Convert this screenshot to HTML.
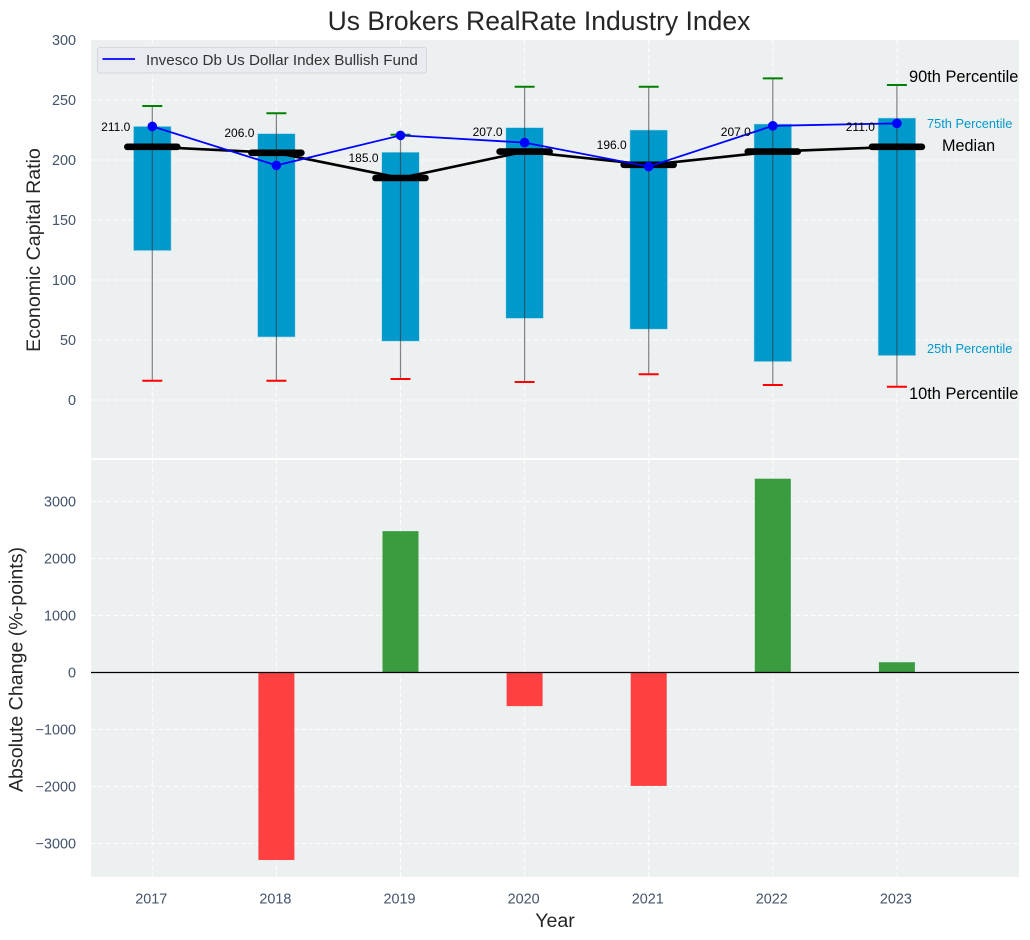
<!DOCTYPE html>
<html>
<head>
<meta charset="utf-8">
<style>
html,body{margin:0;padding:0;background:#fff;}
body{width:1030px;height:940px;overflow:hidden;}
svg{display:block;}
text{font-family:"Liberation Sans",Arial,sans-serif;}
</style>
</head>
<body>
<svg id="chart" width="1030" height="940" viewBox="0 0 1030 940" xmlns="http://www.w3.org/2000/svg"></svg>
<script>
const years = [2017, 2018, 2019, 2020, 2021, 2022, 2023];
const p90 = [245, 239, 221, 261, 261, 268, 262.5];
const p75 = [228, 222, 206.5, 227, 225, 230, 235];
const medians = [211, 206, 185, 207, 196, 207, 211];
const p25 = [124.5, 52.5, 49, 68, 59, 32, 37];
const p10 = [16, 16, 17.5, 15, 21.5, 12.5, 11];
const fund = [228, 195.5, 220.5, 214.5, 194.5, 228.5, 230.5];
const changes = [null, -3290, 2480, -590, -1990, 3400, 180];
const topTicks = [0, 50, 100, 150, 200, 250, 300];
const bottomTicks = [-3000, -2000, -1000, 0, 1000, 2000, 3000];

const svg = document.getElementById('chart');
const NS = 'http://www.w3.org/2000/svg';
const plotL = 91, plotR = 1019;
const topT = 40, topB = 458, botT = 460, botB = 877;
const x = v => 152.3 + (v - 2017) * 124.1;
const yTop = v => 400 - v * 1.2;
const yBot = v => 672.5 - v * 0.057;

function mk(tag, attrs, parent) {
  const el = document.createElementNS(NS, tag);
  for (const k in attrs) el.setAttribute(k, attrs[k]);
  (parent || svg).appendChild(el);
  return el;
}
function txt(str, attrs) {
  const el = mk('text', attrs);
  el.textContent = str;
  return el;
}
const TICK = '#44546a';
const GRID = {stroke: '#ffffff', 'stroke-width': 1, 'stroke-dasharray': '4.5 3', 'stroke-opacity': 0.9};

// plot backgrounds
const bgTop = mk('rect', {x: plotL, y: topT, width: plotR - plotL, height: topB - topT, fill: '#ecf0f1'});


const bgBot = mk('rect', {x: plotL, y: botT, width: plotR - plotL, height: botB - botT, fill: '#ecf0f1'});



// vertical grid + x ticks
years.forEach(yr => {
  const g1 = mk('line', Object.assign({x1: x(yr), x2: x(yr), y1: topT, y2: topB}, GRID));
  
  
  const g2 = mk('line', Object.assign({x1: x(yr), x2: x(yr), y1: botT, y2: botB}, GRID));
  
  
  const t = txt(String(yr), {x: x(yr) - 1, y: 903.5, 'text-anchor': 'middle', 'font-size': 14.4, fill: TICK});
  
  
});

// top y grid + ticks
topTicks.forEach(v => {
  if (v !== 300) {
    const g = mk('line', Object.assign({x1: plotL, x2: plotR, y1: yTop(v), y2: yTop(v)}, GRID));
    
    
  }
  const t = txt(String(v), {x: 76, y: yTop(v) + 5, 'text-anchor': 'end', 'font-size': 14.4, fill: TICK});
  
  
});

// bottom y grid + ticks
bottomTicks.forEach(v => {
  const g = mk('line', Object.assign({x1: plotL, x2: plotR, y1: yBot(v), y2: yBot(v)}, GRID));
  
  
  const t = txt(String(v).replace('-', '\u2212'), {x: 76, y: yBot(v) + 5, 'text-anchor': 'end', 'font-size': 14.4, fill: TICK});
  
  
});

// interquartile bars
years.forEach((yr, i) => {
  const r = mk('rect', {x: x(yr) - 18.8, y: yTop(p75[i]), width: 37.6, height: yTop(p25[i]) - yTop(p75[i]), fill: '#0099cc', stroke: '#b5dbe8', 'stroke-width': 0.6});
  
  
});

// whiskers and caps
years.forEach((yr, i) => {
  const w = mk('line', {x1: x(yr), x2: x(yr), y1: yTop(p90[i]), y2: yTop(p10[i]), stroke: '#333333', 'stroke-opacity': 0.6, 'stroke-width': 1.2});
  
  
  const c1 = mk('line', {x1: x(yr) - 10, x2: x(yr) + 10, y1: yTop(p90[i]), y2: yTop(p90[i]), stroke: '#008000', 'stroke-width': 2});
  
  
  const c2 = mk('line', {x1: x(yr) - 10, x2: x(yr) + 10, y1: yTop(p10[i]), y2: yTop(p10[i]), stroke: '#ff0000', 'stroke-width': 2});
  
  
});

// median line
const medLine = mk('polyline', {points: years.map((yr, i) => x(yr) + ',' + yTop(medians[i])).join(' '), fill: 'none', stroke: '#000000', 'stroke-width': 2.6});


years.forEach((yr, i) => {
  const m = mk('line', {x1: x(yr) - 25, x2: x(yr) + 25, y1: yTop(medians[i]), y2: yTop(medians[i]), stroke: '#000000', 'stroke-width': 6.6, 'stroke-linecap': 'round'});
  
  
});

// fund line
const fundLine = mk('polyline', {points: years.map((yr, i) => x(yr) + ',' + yTop(fund[i])).join(' '), fill: 'none', stroke: '#0000ff', 'stroke-width': 1.8});


years.forEach((yr, i) => {
  const p = mk('circle', {cx: x(yr), cy: yTop(fund[i]), r: 4.8, fill: '#0000ff'});
  
  
});

// median value labels
years.forEach((yr, i) => {
  const t = txt(medians[i].toFixed(1), {x: x(yr) - 22, y: yTop(medians[i]) - 15.8, 'text-anchor': 'end', 'font-size': 12, fill: '#000000'});
  
  
});

// percentile annotations for the final year
const last = years.length - 1;
const a90 = txt('90th Percentile', {x: 909, y: yTop(p90[last]) - 3, 'font-size': 16.4, fill: '#000000'});


const a75 = txt('75th Percentile', {x: 927, y: yTop(p75[last]) + 10, 'font-size': 12.8, fill: '#0099cc'});


const aMed = txt('Median', {x: 942, y: yTop(medians[last]) + 4, 'font-size': 16.2, fill: '#000000'});


const a25 = txt('25th Percentile', {x: 927, y: yTop(p25[last]) - 2.4, 'font-size': 12.8, fill: '#0099cc'});


const a10 = txt('10th Percentile', {x: 909, y: yTop(p10[last]) + 12, 'font-size': 16.4, fill: '#000000'});



// change bars
years.forEach((yr, i) => {
  if (changes[i] === null) return;
  const v = changes[i];
  const r = mk('rect', {x: x(yr) - 18, y: Math.min(yBot(v), yBot(0)), width: 36, height: Math.abs(yBot(v) - yBot(0)), fill: v >= 0 ? '#3b9c3f' : '#ff4040'});
  
  
});
const zero = mk('line', {x1: plotL, x2: plotR, y1: yBot(0), y2: yBot(0), stroke: '#000000', 'stroke-width': 1.2});



// legend
const legendBox = mk('rect', {x: 97.5, y: 47.5, width: 329, height: 25.5, rx: 2.5, fill: '#e9ebf1', stroke: '#d5d7dc', 'stroke-width': 1});


const legendLine = mk('line', {x1: 102.5, x2: 135, y1: 59, y2: 59, stroke: '#0000ff', 'stroke-width': 1.8});


const legendText = txt('Invesco Db Us Dollar Index Bullish Fund', {x: 146, y: 65, 'font-size': 15.2, fill: '#333333'});



// titles
const title = txt('Us Brokers RealRate Industry Index', {x: 539, y: 30, 'text-anchor': 'middle', 'font-size': 26.5, fill: '#262626'});


const yt1 = txt('Economic Capital Ratio', {transform: 'translate(40 250) rotate(-90)', 'text-anchor': 'middle', 'font-size': 19.6, fill: '#262626'});


const yt2 = txt('Absolute Change (%-points)', {transform: 'translate(22.5 669.5) rotate(-90)', 'text-anchor': 'middle', 'font-size': 19.6, fill: '#262626'});


const xt = txt('Year', {x: 555, y: 927, 'text-anchor': 'middle', 'font-size': 19.6, fill: '#262626'});


</script>
</body>
</html>
